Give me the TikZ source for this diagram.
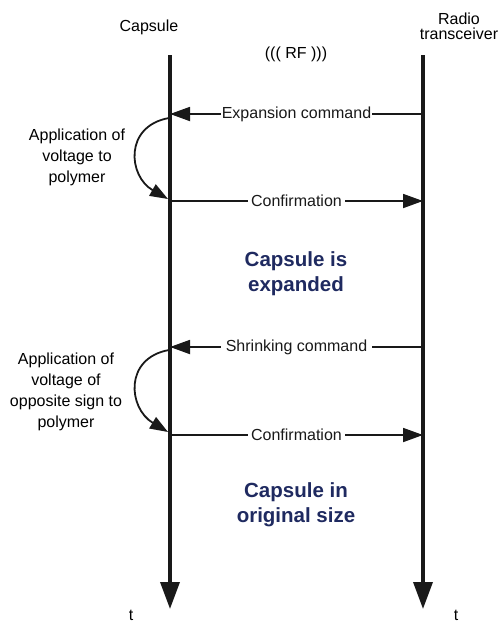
\documentclass[tikz,border=0pt]{standalone}
\usepackage{fontspec}
\setmainfont{Liberation Sans}
\usetikzlibrary{arrows.meta}
\definecolor{navy}{RGB}{31,42,96}
\tikzset{
  lifeline/.style={line width=3.5pt, -{Triangle[length=27pt,width=19pt]}, color=black!90},
  msg/.style={line width=1.8pt, -{Triangle[length=20pt,width=14pt]}, color=black!90},
  curv/.style={line width=1.8pt, -{Triangle[length=18pt,width=13pt]}, color=black!90},
  lbl/.style={font=\fontsize{16}{19}\selectfont, fill=white, inner sep=3pt},
  txt/.style={font=\fontsize{16}{19}\selectfont, inner sep=0pt},
  note/.style={font=\fontsize{16}{21}\selectfont, align=center, inner sep=0pt},
  state/.style={font=\bfseries\fontsize{20.5}{24.5}\selectfont, text=navy, align=center, inner sep=0pt}
}
\begin{document}
\begin{tikzpicture}[x=1pt,y=-1pt]
\useasboundingbox (0,0) rectangle (503,624);
% lifelines
\coordinate (ctop) at (170,55);
\coordinate (cbot) at (170,609);
\coordinate (rtop) at (423,55);
\coordinate (rbot) at (423,609);
\draw[lifeline] (ctop) -- (cbot);
\draw[lifeline] (rtop) -- (rbot);
% headers
\node[txt] (caps) at (149,27) {Capsule};
\node[txt, align=center, font=\fontsize{16}{15}\selectfont] (radio) at (459,26) {Radio\\transceiver};
\node[txt] (rf) at (296,54) {((( RF )))};
% messages
\coordinate (c1) at (170,114);
\coordinate (r1) at (423,114);
\coordinate (c2) at (170,201);
\coordinate (r2) at (423,201);
\coordinate (c3) at (170,347);
\coordinate (r3) at (423,347);
\coordinate (c4) at (170,435);
\coordinate (r4) at (423,435);
\draw[msg] (r1) -- node[lbl, inner sep=1pt] (m1) {Expansion command} (c1);
\draw[msg] (c2) -- node[lbl] (m2) {Confirmation} (r2);
\draw[msg] (r3) -- node[lbl, inner xsep=5pt] (m3) {Shrinking command} (c3);
\draw[msg] (c4) -- node[lbl] (m4) {Confirmation} (r4);
% curved arrows
\coordinate (a1) at (169,118);
\coordinate (b1) at (168,199);
\coordinate (a2) at (169,350);
\coordinate (b2) at (168,432);
\draw[curv] (a1) .. controls (124,126) and (128,176) .. (b1);
\draw[curv] (a2) .. controls (124,358) and (128,408) .. (b2);
% notes
\node[note] (n1) at (77,157.5) {Application of\\voltage to\\polymer};
\node[note] (n2) at (66,392) {Application of\\voltage of\\opposite sign to\\polymer};
% states
\node[state] (s1) at (296,273.5) {Capsule is\\expanded};
\node[state] (s2) at (296,504.5) {Capsule in\\original size};
% time labels
\node[txt] (t1) at (131,615) {t};
\node[txt] (t2) at (456,615) {t};
\end{tikzpicture}
\end{document}
